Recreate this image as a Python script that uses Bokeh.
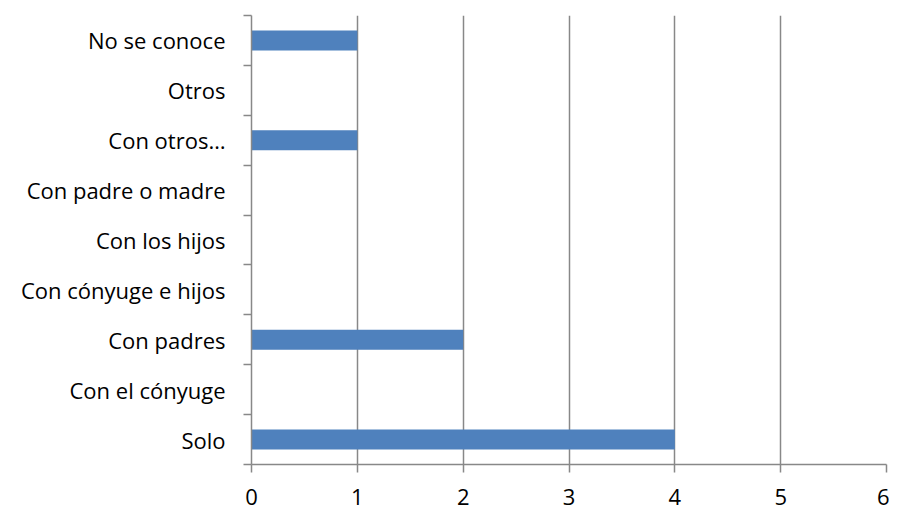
from bokeh.plotting import figure
from bokeh.models import FixedTicker, Range1d
from bokeh.embed import file_html
from bokeh.resources import INLINE

categories = ["Solo", "Con el cónyuge", "Con padres", "Con cónyuge e hijos",
              "Con los hijos", "Con padre o madre", "Con otros…", "Otros", "No se conoce"]
values = [4, 0, 2, 0, 0, 0, 1, 0, 1]
x_ticks = [0, 1, 2, 3, 4, 5, 6]

n = len(categories)
ypos = [i + 0.5 for i in range(n)]

p = figure(width=889, height=511, output_backend="svg", toolbar_location=None,
           x_range=Range1d(0, 6), y_range=Range1d(0, n),
           min_border_left=251, min_border_right=3, min_border_top=15, min_border_bottom=47)
p.outline_line_color = None
p.background_fill_color = "white"

p.hbar(y=ypos, right=values, left=0, height=0.4, color="#4f81bd", line_color=None)

# x axis
p.xaxis.ticker = FixedTicker(ticks=x_ticks)
p.xaxis.axis_line_color = "#888888"
p.xaxis.axis_line_width = 1.5
p.xaxis.major_tick_line_color = "#888888"
p.xaxis.major_tick_line_width = 1.5
p.xaxis.major_tick_in = 0
p.xaxis.major_tick_out = 8
p.xaxis.minor_tick_line_color = None
p.xaxis.major_label_text_font = "Open Sans"
p.xaxis.major_label_text_font_size = "22px"
p.xaxis.major_label_text_color = "black"
p.xaxis.major_label_standoff = 16

# y axis
p.yaxis.ticker = FixedTicker(ticks=ypos, minor_ticks=list(range(n + 1)))
p.yaxis.major_label_overrides = {y: c for y, c in zip(ypos, categories)}
p.yaxis.axis_line_color = "#888888"
p.yaxis.axis_line_width = 1.5
p.yaxis.major_tick_line_color = None
p.yaxis.minor_tick_line_color = "#888888"
p.yaxis.minor_tick_line_width = 1.5
p.yaxis.minor_tick_in = 0
p.yaxis.minor_tick_out = 8
p.yaxis.major_label_text_font = "Open Sans"
p.yaxis.major_label_text_font_size = "22px"
p.yaxis.major_label_text_color = "black"
p.yaxis.major_label_standoff = 18

p.xgrid.ticker = FixedTicker(ticks=x_ticks)
p.xgrid.grid_line_color = "#888888"
p.xgrid.grid_line_width = 1.5
p.ygrid.grid_line_color = None

open("out.html", "w").write(file_html(p, INLINE))
